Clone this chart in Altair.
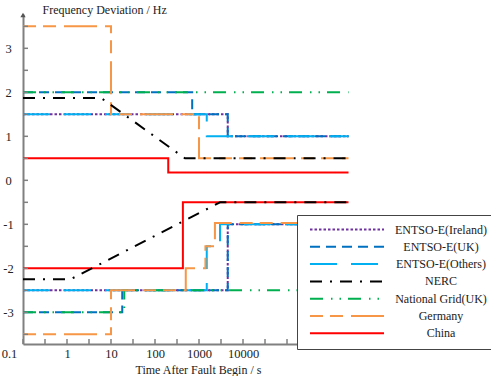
import altair as alt
import pandas as pd

END = 2.5e6
series = ["ENTSO-E(Ireland)", "ENTSO-E(UK)", "ENTSO-E(Others)", "NERC",
          "National Grid(UK)", "Germany", "China"]
colors = ["#7030A0", "#0070C0", "#00B0F0", "#000000", "#00B050", "#F79646", "#FF0000"]
dashes = [[2.5, 2], [10, 6], [27, 14], [12, 8, 2, 8],
          [13, 8, 1.5, 7, 1.5, 7], [13, 7, 13, 8, 33, 8], [1, 0]]

# step series: (series, part) -> (times [s], frequency deviation [Hz])
ireland_up_t = [0.1, 4500, END];            ireland_up_f = [1.5, 1.0, 1.0]
ireland_lo_t = [0.1, 4500, END];            ireland_lo_f = [-2.5, -1.0, -1.0]
uk_up_t = [0.1, 700, 4500, END];            uk_up_f = [2.0, 1.5, 1.0, 1.0]
uk_lo_t = [0.1, 18, 4500, END];             uk_lo_f = [-3.0, -2.5, -1.0, -1.0]
others_up_t = [0.1, 1500, END];             others_up_f = [1.5, 1.0, 1.0]
others_lo_t = [0.1, 1500, 3000, END];       others_lo_f = [-2.5, -1.5, -1.0, -1.0]
ng_up_t = [0.1, END];                       ng_up_f = [2.0, 2.0]
ng_lo_t = [0.1, 20, END];                   ng_lo_f = [-3.0, -2.5, -2.5]
de_up_t = [0.1, 10, 1000, END];             de_up_f = [3.5, 1.5, 0.5, 0.5]
de_lo_t = [0.1, 10, 500, 1400, 2300, END];  de_lo_f = [-3.5, -2.5, -2.0, -1.5, -0.97, -0.97]
cn_up_t = [0.1, 200, END];                  cn_up_f = [0.5, 0.18, 0.18]
cn_lo_t = [0.1, 430, END];                  cn_lo_f = [-2.0, -0.5, -0.5]
# NERC (linear ramps)
nerc_up_t = [0.1, 6, 480, END];             nerc_up_f = [1.87, 1.87, 0.5, 0.5]
nerc_lo_t = [0.1, 1.2, 3000, END];          nerc_lo_f = [-2.25, -2.25, -0.5, -0.5]

x_ticks = [0.1, 0.3162, 1, 3.162, 10, 31.62, 100, 316.2, 1000, 3162, 10000,
           31623, 100000, 316228]
x_labels = [0.1, 1, 10, 100, 1000, 10000]
y_ticks = [-3.5, -3, -2.5, -2, -1.5, -1, -0.5, 0, 0.5, 1, 1.5, 2, 2.5, 3, 3.5]
y_labels = [-3, -2, -1, 0, 1, 2, 3]

steps = [
    ("ENTSO-E(Ireland)", "up", ireland_up_t, ireland_up_f),
    ("ENTSO-E(Ireland)", "lo", ireland_lo_t, ireland_lo_f),
    ("ENTSO-E(UK)", "up", uk_up_t, uk_up_f),
    ("ENTSO-E(UK)", "lo", uk_lo_t, uk_lo_f),
    ("ENTSO-E(Others)", "up", others_up_t, others_up_f),
    ("ENTSO-E(Others)", "lo", others_lo_t, others_lo_f),
    ("National Grid(UK)", "up", ng_up_t, ng_up_f),
    ("National Grid(UK)", "lo", ng_lo_t, ng_lo_f),
    ("Germany", "up", de_up_t, de_up_f),
    ("Germany", "lo", de_lo_t, de_lo_f),
    ("China", "up", cn_up_t, cn_up_f),
    ("China", "lo", cn_lo_t, cn_lo_f),
]
ramps = [
    ("NERC", "up", nerc_up_t, nerc_up_f),
    ("NERC", "lo", nerc_lo_t, nerc_lo_f),
]

def table(items):
    rows = []
    for s, p, ts, fs in items:
        for t, f in zip(ts, fs):
            rows.append({"s": s, "p": s + p, "t": t, "f": f})
    return pd.DataFrame(rows)

step_df = table(steps)
ramp_df = table(ramps)

FONT = "Liberation Serif"
GRAY = "#808080"
W, H = 350, 330

xs = alt.Scale(type="log", domain=[0.1, 9.0e6], nice=False)
ys = alt.Scale(domain=[-3.72, 3.78], nice=False, zero=False)

x_axis = alt.Axis(values=x_labels, labelExpr="'' + datum.value", ticks=False, grid=False,
                  domainColor=GRAY, domainWidth=2, labelFont=FONT, labelFontSize=12.5,
                  labelColor="#222", labelPadding=3, labelFlush=False,
                  labelOffset={"condition": {"test": "datum.value < 0.5", "value": -14}, "value": 0},
                  title="Time After Fault Begin / s", titleFont=FONT, titleFontSize=12,
                  titleFontWeight="normal", titleColor="#222", titleY=25,
                  titleBaseline="middle")
y_axis = alt.Axis(values=y_labels, labelExpr="'' + datum.value", ticks=False, grid=False,
                  domainColor=GRAY, domainWidth=2, labelFont=FONT, labelFontSize=12.5,
                  labelColor="#222", labelPadding=15, labelAlign="center", labelFlush=False,
                  title="Frequency Deviation / Hz", titleFont=FONT, titleFontSize=12,
                  titleFontWeight="normal", titleColor="#222", titleAngle=0,
                  titleAlign="left", titleBaseline="middle", titleX=19, titleY=-5)

legend = alt.Legend(orient="none", legendX=274, legendY=201, title=None, padding=9,
                    strokeColor="#444", fillColor="white", symbolType="stroke",
                    symbolSize=5476, symbolStrokeWidth=2, symbolOffset=3,
                    clipHeight=11, rowPadding=4.3,
                    labelAlign="center", labelOffset=56, labelFont=FONT, labelFontSize=12,
                    labelColor="#222", labelLimit=300)

color = alt.Color("s:N", scale=alt.Scale(domain=series, range=colors), legend=legend)
dash = alt.StrokeDash("s:N", scale=alt.Scale(domain=series, range=dashes), legend=legend)

X = lambda f: alt.X(f, scale=xs, axis=x_axis)
Y = lambda f: alt.Y(f, scale=ys, axis=y_axis)

step_layer = alt.Chart(step_df).mark_line(interpolate="step-after", strokeWidth=2,
                                          strokeCap="butt").encode(
    x=X("t:Q"), y=Y("f:Q"), color=color, strokeDash=dash, detail="p:N")

ramp_layer = alt.Chart(ramp_df).mark_line(strokeWidth=2, strokeCap="butt").encode(
    x=X("t:Q"), y=Y("f:Q"), color=color, strokeDash=dash, detail="p:N")

xt_layer = alt.Chart(pd.DataFrame({"v": x_ticks})).mark_rule(color=GRAY, strokeWidth=1.5).encode(
    x=X("v:Q"), y=alt.value(H), y2=alt.value(H - 5))
yt_layer = alt.Chart(pd.DataFrame({"v": y_ticks})).mark_rule(color=GRAY, strokeWidth=1.5).encode(
    y=Y("v:Q"), x=alt.value(0), x2=alt.value(5))

one = pd.DataFrame({"a": [0]})
arrow_y = alt.Chart(one).mark_point(shape="triangle-up", filled=True, size=28,
                                    color="#555", opacity=1).encode(
    x=alt.value(0), y=alt.value(1))
arrow_x = alt.Chart(one).mark_point(shape="triangle-right", filled=True, size=28,
                                    color="#555", opacity=1).encode(
    x=alt.value(W - 1), y=alt.value(H))

chart = alt.layer(step_layer, ramp_layer, xt_layer, yt_layer, arrow_y, arrow_x).properties(
    width=W, height=H,
    autosize=alt.AutoSizeParams(type="none"),
    padding={"left": 23, "top": 14, "right": 491 - 23 - W, "bottom": 376 - 14 - H},
).configure_view(strokeWidth=0)

chart.save("out.html", embed_options={"renderer": "svg", "actions": False})
